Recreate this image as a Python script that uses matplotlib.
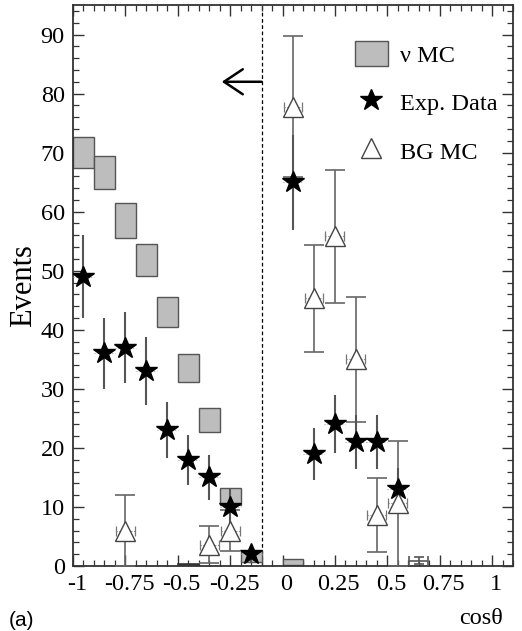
#!/usr/bin/env python3
"""Zenith angle distribution: neutrino MC, experimental data and background MC."""

import numpy as np
import matplotlib.pyplot as plt
from matplotlib.lines import Line2D
from matplotlib.patches import Patch
from matplotlib.ticker import MultipleLocator
from matplotlib.transforms import ScaledTranslation

# neutrino MC (bin centre, value, half-height of the box)
vmc_x = [-0.95, -0.85, -0.75, -0.65, -0.55, -0.45, -0.35, -0.25, -0.15, 0.05]
vmc_y = [70.0, 66.7, 58.5, 51.8, 43.0, 33.5, 24.7, 11.8, 1.6, 0.7]
vmc_err = [2.6, 2.8, 2.9, 2.7, 2.5, 2.4, 2.0, 1.4, 0.9, 0.5]
vmc_low_x = [-0.45]
vmc_low_y = [0.25]
vmc_low_err = [0.12]

# experimental data
data_x = [-0.95, -0.85, -0.75, -0.65, -0.55, -0.45, -0.35, -0.25, -0.15,
          0.05, 0.15, 0.25, 0.35, 0.45, 0.55]
data_y = [49, 36, 37, 33, 23, 18, 15, 10, 2, 65, 19, 24, 21, 21, 13]

# background MC
bg_x = [-0.75, -0.35, -0.25, 0.05, 0.15, 0.25, 0.35, 0.45, 0.55]
bg_y = [6.0, 3.6, 6.0, 77.8, 45.3, 55.8, 35.0, 8.6, 10.6]
bg_err = [6.0, 3.1, 3.5, 12.0, 9.1, 11.3, 10.6, 6.3, 10.6]
bg_flat_x = [0.65]
bg_flat_y = [0.9]
bg_flat_err = [0.6]

xticks = [-1, -0.75, -0.5, -0.25, 0, 0.25, 0.5, 0.75, 1]
xtick_labels = ["-1", "-0.75", "-0.5", "-0.25", "0", "0.25", "0.5", "0.75", "1"]
yticks = [0, 10, 20, 30, 40, 50, 60, 70, 80, 90]

cut_x = -0.1
arrow_y = 82
bin_w = 0.1

SERIF = "Liberation Serif"
plt.rcParams["font.family"] = SERIF

fig = plt.figure(figsize=(5.22, 6.31), dpi=100)
ax = fig.add_axes([73 / 522, 1 - 566 / 631, 440 / 522, 561 / 631])

box_face = "#bdbdbd"
box_edge = "#555555"

# MC boxes
vy = np.array(vmc_y)
ve = np.array(vmc_err)
ax.bar(vmc_x, 2 * ve, bottom=vy - ve, width=bin_w, color=box_face,
       edgecolor=box_edge, linewidth=1.0, zorder=2)
ly = np.array(vmc_low_y)
le = np.array(vmc_low_err)
ax.bar(vmc_low_x, 2 * le, bottom=ly - le, width=bin_w, color=box_face,
       edgecolor="#333333", linewidth=1.2, zorder=2)

# background MC error bars
eb = ax.errorbar(bg_x, bg_y, xerr=0.045, fmt="none", ecolor="#777777",
                 elinewidth=0.8, capsize=3.5, capthick=0.9, zorder=3)
eb[2][0].set_linestyle(":")
ax.errorbar(bg_x, bg_y, yerr=bg_err, fmt="none", ecolor="#666666",
            elinewidth=1.2, capsize=7.5, capthick=1.2, zorder=3)
ax.errorbar(bg_flat_x, bg_flat_y, xerr=0.045, yerr=bg_flat_err, fmt="none",
            ecolor="#555555", elinewidth=1.2, capsize=3.5, capthick=1.2,
            zorder=3)

# data error bars
dx = np.array(data_x)
dy = np.array(data_y, dtype=float)
eb = ax.errorbar(dx, dy, xerr=0.05, fmt="none", ecolor="#aaaaaa",
                 elinewidth=0.8, zorder=4)
eb[2][0].set_linestyle(":")
ax.errorbar(dx, dy, yerr=np.sqrt(dy), fmt="none", ecolor="#555555",
            elinewidth=1.5, zorder=4)

# markers
ax.plot(bg_x, bg_y, "^", ms=14, mfc="white", mec="#444444", mew=1.0,
        linestyle="none", zorder=5)
ax.plot(dx, dy, "*", ms=16.5, color="black", linestyle="none", zorder=6)

# cut line and arrow
ax.axvline(cut_x, color="black", lw=0.9, ls=(0, (3, 2)), zorder=1)
ax.annotate("", xy=(-0.29, arrow_y), xytext=(cut_x, arrow_y),
            arrowprops=dict(arrowstyle="->,head_length=0.3,head_width=0.2",
                            lw=1.8, mutation_scale=45, color="black",
                            shrinkA=0, shrinkB=0))

ax.set_xlim(-1, 1.1)
ax.set_ylim(0, 95)
ax.set_xticks(xticks)
ax.set_xticklabels(xtick_labels)
ax.set_yticks(yticks)
ax.xaxis.set_minor_locator(MultipleLocator(0.05))
ax.yaxis.set_minor_locator(MultipleLocator(2))
ax.tick_params(which="both", direction="in", top=True, right=True,
               color="#333333", labelsize=17.5)
ax.tick_params(which="major", length=8, width=1.0, pad=6)
ax.tick_params(which="minor", length=4.5, width=0.9)
for s in ax.spines.values():
    s.set_linewidth(1.3)
    s.set_color("#333333")

# nudge x tick labels a little to the right
shift = ScaledTranslation(4 / 100, 0, fig.dpi_scale_trans)
for lab in ax.get_xticklabels():
    lab.set_transform(lab.get_transform() + shift)

ax.set_ylabel("Events", fontsize=22, labelpad=2)

handles = [
    Patch(facecolor=box_face, edgecolor=box_edge, linewidth=1.0),
    Line2D([], [], marker="*", ms=16.5, color="black", linestyle="none"),
    Line2D([], [], marker="^", ms=14, mfc="white", mec="#444444",
           mew=1.0, linestyle="none"),
]
ax.legend(handles, ["\u03bd MC", "Exp. Data", "BG MC"], loc="upper left",
          bbox_to_anchor=(0.64, 0.935), frameon=False, fontsize=17.5,
          handlelength=1.36, handleheight=1.15, handletextpad=0.5,
          labelspacing=0.95, borderpad=0, borderaxespad=0)

fig.text(503 / 522, 1 - 619 / 631, "cos\u03b8", fontsize=17.5, ha="right",
         va="center")
fig.text(9 / 522, 1 - 620 / 631, "(a)", fontsize=15,
         family="Liberation Sans", ha="left", va="center")

fig.savefig("out.png", dpi=100)
